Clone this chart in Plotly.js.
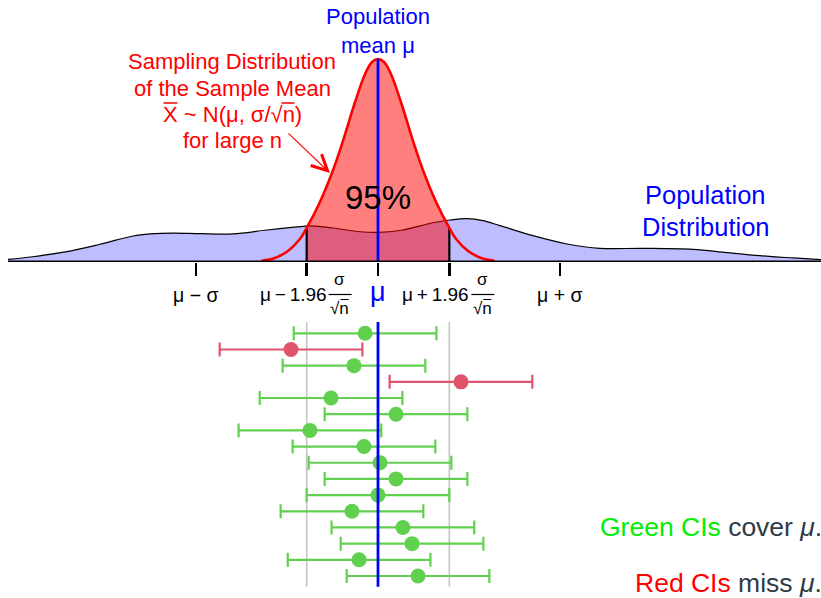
<!DOCTYPE html>
<html><head><meta charset="utf-8">
<script src="https://cdn.plot.ly/plotly-3.0.1.min.js"></script>
<style>html,body{margin:0;padding:0;background:#fff}</style>
</head><body><div id="chart" style="width:821px;height:598px"></div>
<script>
// ---- data (x in units of sigma around mu; y = density) ----
const mu = 0, sigma = 1;
const moe = 0.392; // 1.96 * sigma / sqrt(n), n = 25

// population distribution
const popX = [-2.033,-1.896,-1.709,-1.527,-1.346,-1.253,-1.126,-0.978,-0.797,-0.610,-0.429,-0.374,-0.247,-0.099,0,0.121,0.302,0.396,0.489,0.577,0.670,0.852,1.038,1.220,1.456,1.731,1.918,2.099,2.280,2.434];
const popY = [0.025,0.052,0.102,0.175,0.257,0.277,0.286,0.280,0.277,0.316,0.349,0.356,0.336,0.299,0.293,0.311,0.388,0.415,0.428,0.408,0.359,0.260,0.178,0.135,0.135,0.125,0.092,0.062,0.040,0.023];

// sampling distribution of the sample mean
const sampX = [-0.640,-0.566,-0.495,-0.429,-0.392,-0.319,-0.253,-0.198,-0.126,-0.071,-0.033,0,0.033,0.071,0.126,0.198,0.253,0.319,0.392,0.429,0.495,0.566,0.640];
const sampY = [0.013,0.040,0.109,0.227,0.336,0.593,0.879,1.165,1.580,1.857,1.975,2.005,1.975,1.857,1.580,1.165,0.879,0.593,0.336,0.227,0.109,0.040,0.013];

// sample means of 16 confidence intervals (top to bottom)
const ciMeans = [-0.071,-0.478,-0.132,0.456,-0.258,0.099,-0.374,-0.077,0.011,0.099,0.000,-0.143,0.137,0.187,-0.104,0.220];

const tickVals = [mu - sigma, mu - moe, mu, mu + moe, mu + sigma];

// ---- styling helpers ----
const FONT = 'Liberation Sans, Arial, Helvetica, sans-serif';
const GREEN = '#61D04F', RED = '#DF536B';
const pY = px => 1 - px / 598;
const rows = ciMeans.map((_, i) => i + 1);
const covered = ciMeans.map(m => Math.abs(m - mu) <= moe);
const lineTop = 0.3, lineBottom = 16.66;

const idxL = sampX.indexOf(mu - moe), idxR = sampX.indexOf(mu + moe);
const inBand = x => x >= mu - moe - 1e-9 && x <= mu + moe + 1e-9;
const fillX = sampX.filter(inBand);
const fillY = sampY.filter((_, i) => inBand(sampX[i]));
const peak = Math.max(...sampY);

const traces = [];
traces.push({type:'scatter', mode:'lines', x: popX, y: popY, fill:'tozeroy',
  fillcolor:'rgba(0,0,255,0.26)', line:{color:'#000', width:1.2, shape:'spline'},
  hoverinfo:'skip', showlegend:false});
traces.push({type:'scatter', mode:'lines', x: fillX, y: fillY, fill:'tozeroy',
  fillcolor:'rgba(255,0,0,0.5)', line:{width:0, shape:'spline'},
  hoverinfo:'skip', showlegend:false});
traces.push({type:'scatter', mode:'lines',
  x:[mu - moe, mu - moe, null, mu + moe, mu + moe],
  y:[0, sampY[idxL], null, 0, sampY[idxR]],
  line:{color:'#000', width:2.2}, hoverinfo:'skip', showlegend:false});
traces.push({type:'scatter', mode:'lines', x: sampX, y: sampY,
  line:{color:'#FF0000', width:2.6, shape:'spline'}, hoverinfo:'skip', showlegend:false});
traces.push({type:'scatter', mode:'lines', x:[mu, mu], y:[0, peak],
  line:{color:'#0000FF', width:2.8}, hoverinfo:'skip', showlegend:false});
traces.push({type:'scatter', mode:'lines', x:[popX[0], popX[popX.length-1]], y:[0,0],
  line:{color:'#000', width:3}, hoverinfo:'skip', showlegend:false});

traces.push({type:'scatter', mode:'lines', xaxis:'x', yaxis:'y2',
  x:[mu - moe, mu - moe, null, mu + moe, mu + moe],
  y:[lineTop, lineBottom, null, lineTop, lineBottom],
  line:{color:'#C4C4C4', width:1.6}, hoverinfo:'skip', showlegend:false});

function ciTrace(flag, color) {
  const xs = [], ys = [];
  ciMeans.forEach((m, i) => { if (covered[i] === flag) { xs.push(m); ys.push(rows[i]); } });
  return {type:'scatter', mode:'markers', x: xs, y: ys, xaxis:'x', yaxis:'y2',
    marker:{size:15, color: color},
    error_x:{type:'constant', value: moe, color: color, thickness:2.2, width:7},
    hoverinfo:'skip', showlegend:false};
}
traces.push(ciTrace(true, GREEN));
traces.push(ciTrace(false, RED));
traces.push({type:'scatter', mode:'lines', xaxis:'x', yaxis:'y2',
  x:[mu, mu], y:[lineTop, lineBottom],
  line:{color:'#0000FF', width:2.8}, hoverinfo:'skip', showlegend:false});

function ann(text, x, ypx, size, color, extra) {
  return Object.assign({text: text, x: x, xref:'x', y: pY(ypx), yref:'paper',
    showarrow:false, xanchor:'center', yanchor:'middle',
    font:{family: FONT, size: size, color: color}}, extra || {});
}
const redX = mu - 0.7995;
const annotations = [
  ann('Population', mu, 17, 22, '#0000FF'),
  ann('mean μ', mu, 45, 22, '#0000FF'),
  ann('Sampling Distribution', redX, 61, 22, '#FF0000'),
  ann('of the Sample Mean', redX, 88, 22, '#FF0000'),
  ann('X ~ N(μ, σ/√n)', redX, 115, 22, '#FF0000'),
  ann('for large n', redX, 141, 22, '#FF0000'),
  ann('95%', mu, 197, 33, '#000000'),
  ann('Population', mu + 1.802, 195, 25.5, '#0000FF'),
  ann('Distribution', mu + 1.802, 227, 25.5, '#0000FF'),
  ann('μ − σ', tickVals[0], 295, 19.5, '#000'),
  ann('μ + σ', tickVals[4], 295, 19.5, '#000'),
  ann('μ', tickVals[2], 292, 27, '#0000FF'),
  ann('μ\u2009−\u20091.96', tickVals[1], 294, 19, '#000', {xanchor:'right', xshift:22}),
  ann('σ', tickVals[1], 279, 17, '#000', {xshift:33}),
  ann('√n', tickVals[1], 308, 17, '#000', {xshift:33}),
  ann('μ\u2009+\u20091.96', tickVals[3], 294, 19, '#000', {xanchor:'right', xshift:22}),
  ann('σ', tickVals[3], 279, 17, '#000', {xshift:33}),
  ann('√n', tickVals[3], 308, 17, '#000', {xshift:33}),
  {text:'', x: mu - 0.264, xref:'x', y: 0.879, yref:'y', showarrow:true,
   ax:-43, ay:-41, arrowcolor:'#FF0000', arrowwidth:1.1, arrowhead:5, arrowsize:2.8, standoff:0},
  {text:'<span style="color:#00EE00">Green CIs</span> cover <i>μ</i>.', x:1, xref:'paper', y:pY(527), yref:'paper',
   xanchor:'right', yanchor:'middle', showarrow:false, xshift:3, font:{family:FONT, size:26.5, color:'#2E3B45'}},
  {text:'<span style="color:#FF0000">Red CIs</span> miss <i>μ</i>.', x:1, xref:'paper', y:pY(583), yref:'paper',
   xanchor:'right', yanchor:'middle', showarrow:false, xshift:3, font:{family:FONT, size:26.5, color:'#2E3B45'}}
];

function bar(anchor, x0, x1, ypx, color, w) {
  return {type:'line', xref:'x', xsizemode:'pixel', xanchor: anchor, x0: x0, x1: x1,
    yref:'paper', y0: pY(ypx), y1: pY(ypx), line:{color: color, width: w}};
}
const shapes = [
  // fraction bars
  bar(tickVals[1], 22, 45, 294.5, '#000', 1.2),
  bar(tickVals[3], 22, 45, 294.5, '#000', 1.2),
  // radical tops over n in tick labels
  bar(tickVals[1], 34, 42, 299.5, '#000', 1),
  bar(tickVals[3], 34, 42, 299.5, '#000', 1),
  // bar over X and radical top over n in red label
  bar(redX, -69, -55, 103, '#FF0000', 1.5),
  bar(redX, 49, 62, 103, '#FF0000', 1.5)
];

const layout = {
  width:821, height:598, margin:{l:0, r:0, t:0, b:0},
  paper_bgcolor:'#fff', plot_bgcolor:'#fff',
  font:{family: FONT},
  xaxis:{range:[-378/182, 443/182], domain:[0,1], anchor:'y', showgrid:false, zeroline:false,
    showline:false, showticklabels:false, ticks:'outside', tickvals: tickVals, ticklen:13,
    tickwidth:2.6, tickcolor:'#000', fixedrange:true},
  yaxis:{domain:[336/598, 1], range:[0, 262/101.25], visible:false, fixedrange:true},
  yaxis2:{domain:[0, 336/598], range:[17.36, -3.407], visible:false, anchor:'x', fixedrange:true},
  annotations: annotations, shapes: shapes, showlegend:false
};
Plotly.newPlot('chart', traces, layout, {displayModeBar:false, staticPlot:true});
</script></body></html>
